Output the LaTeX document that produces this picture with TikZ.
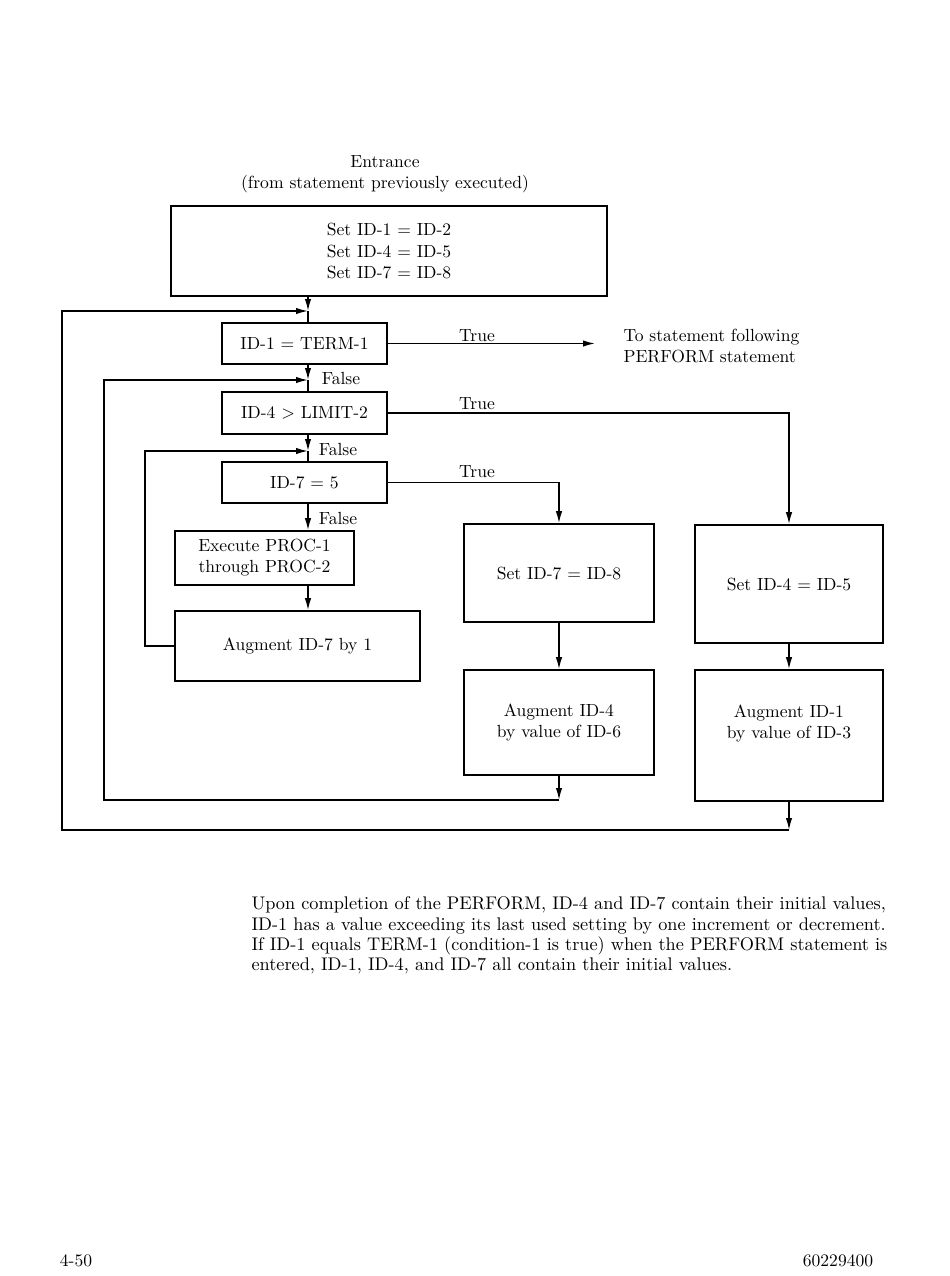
\documentclass[tikz,border=0pt]{standalone}
\usetikzlibrary{arrows.meta}
\begin{document}
\begin{tikzpicture}
  [x=0.02cm,y=-0.02cm,line width=0.9pt,>={Latex[length=2.4mm,width=1.3mm]},
   every node/.style={inner sep=1pt},
   box/.style={draw,rectangle,align=center,inner sep=0pt}]

  \useasboundingbox (0,0) rectangle (950,1276);

  \node (entr) at (385,174) [align=center] {Entrance\\(from statement previously executed)};

  \node[box,minimum width=8.72cm,minimum height=1.8cm] (set1) at (389,251) {Set ID-1 = ID-2\\Set ID-4 = ID-5\\Set ID-7 = ID-8};
  \node[box,minimum width=3.3cm,minimum height=0.82cm] (t1) at (304.5,343.5) {ID-1 = TERM-1};
  \node[box,minimum width=3.3cm,minimum height=0.84cm] (t2) at (304.5,413) {ID-4 $>$ LIMIT-2};
  \node[box,minimum width=3.3cm,minimum height=0.82cm] (t3) at (304.5,482.5) {ID-7 = 5};
  \node[box,minimum width=3.58cm,minimum height=1.08cm] (exec) at (264.5,558) {Execute PROC-1\\through PROC-2};
  \node[box,minimum width=4.9cm,minimum height=1.4cm] (aug7) at (297.5,646) {Augment ID-7 by 1};
  \node[box,minimum width=3.8cm,minimum height=1.96cm] (set7) at (559,573) {Set ID-7 = ID-8};
  \node[box,minimum width=3.8cm,minimum height=2.1cm] (aug4) at (559,722.5) {Augment ID-4\\by value of ID-6};
  \node[box,minimum width=3.76cm,minimum height=2.36cm] (set4) at (789,584) {Set ID-4 = ID-5};
  \node[box,minimum width=3.76cm,minimum height=2.62cm] (aug1) at (789,735.5) {Augment ID-1\\by value of ID-3\\[4pt] \mbox{}};

  % labels
  \node (tr1) at (477,336) {True};
  \node (tr2) at (477,404) {True};
  \node (tr3) at (477,472) {True};
  \node (fa1) at (341,378) {False};
  \node (fa2) at (338,449) {False};
  \node (fa3) at (338,518) {False};
  \node (next) at (621,346) [anchor=west,align=left] {To statement following\\PERFORM statement};

  \coordinate (j1) at (308,311);
  \coordinate (j2) at (308,380);
  \coordinate (j3) at (308,451);
  \coordinate (exit) at (595,344);
  \coordinate (b8) at (559,800);
  \coordinate (l2) at (104,800);
  \coordinate (b10) at (789,830);
  \coordinate (l1) at (62,830);

  % main line
  \draw[->] (set1.south -| j1) -- (j1);
  \draw (j1) -- (j1 |- t1.north);
  \draw[->] (t1.south -| j1) -- (j2);
  \draw (j2) -- (j2 |- t2.north);
  \draw[->] (t2.south -| j2) -- (j3);
  \draw (j3) -- (j3 |- t3.north);
  \draw[->] (t3.south -| j3) -- (j3 |- exec.north);
  \draw[->] (exec.south -| j3) -- (j3 |- aug7.north);

  % true branches
  \draw[->] (t1.east) -- (t1.east -| exit);
  \draw[->] (t2.east) -| (set4.north);
  \draw[->] (t3.east) -| (set7.north);
  \draw[->] (set7) -- (aug4);
  \draw[->] (set4) -- (aug1);

  % loops back
  \draw[->] (aug7.west) -- ++(-29,0) |- (j3);
  \draw[->] (aug4.south) -- (b8);
  \draw[->] (b8) -- (l2) |- (j2);
  \draw[->] (aug1.south) -- (b10);
  \draw[->] (b10) -- (l1) |- (j1);

  \node (note) at (249,935.5) [anchor=west,align=left,font=\fontsize{10.4}{11.6}\selectfont] {Upon completion of the PERFORM, ID-4 and ID-7 contain their initial values,\\
    ID-1 has a value exceeding its last used setting by one increment or decrement.\\
    If ID-1 equals TERM-1 (condition-1 is true) when the PERFORM statement is\\
    entered, ID-1, ID-4, and ID-7 all contain their initial values.};

  \node (pg) at (76,1261) {4-50};
  \node (doc) at (838,1261) {60229400};
\end{tikzpicture}
\end{document}
